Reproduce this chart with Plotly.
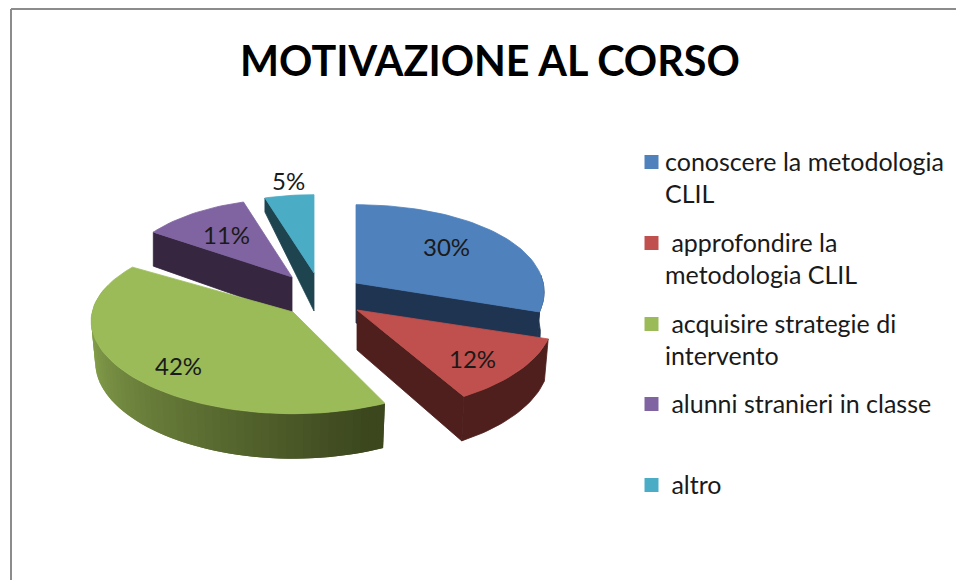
import math
import plotly.graph_objects as go

title = "MOTIVAZIONE AL CORSO"
categories = ["conoscere la metodologia<br>CLIL",
              "\u00a0approfondire la<br>metodologia CLIL",
              "\u00a0acquisire strategie di<br>intervento",
              "\u00a0alunni stranieri in classe",
              "\u00a0altro"]
values = [30, 12, 42, 11, 5]
percent_labels = ["30%", "12%", "42%", "11%", "5%"]
top_colors = ["#4F81BD", "#C0504D", "#9BBB59", "#8064A2", "#4BACC6"]
wall_colors = ["#1F3450", "#4E1F1D", None, "#36263F", "#1E4450"]

# layout of the exploded, tilted pie (pixel space)
apex_x = [356, 357, 293, 292, 314]
apex_y = [283, 310, 312, 277, 273]
scale_x = [0.96, 1.0, 1.03, 0.89, 0.9]
start_trim = [0, 0, 4, 0, 0]
end_trim = [0, 1.5, 0, 0, 0]
label_x = [446, 472, 178, 226, 288]
label_y = [246, 358, 365, 234, 180]
legend_y = [162, 243, 324, 404, 485]
A, B, KX, KY = 195, 90, 0.10, 0.13
FONT = "Lato, Carlito, Calibri, sans-serif"

fig = go.Figure()


def poly(xs, ys, color, lw=0.8):
    fig.add_trace(go.Scatter(x=xs, y=ys, mode="lines", fill="toself", fillcolor=color,
                             line=dict(color=color, width=lw), hoverinfo="skip", showlegend=False))


def pt(i, deg, depth=0.0):
    t = math.radians(deg)
    c, s = math.cos(t), math.sin(t)
    x = A * s * (1 - KX * c) * scale_x[i]
    y = -B * c * (1 - KY * c)
    if depth:
        x *= 0.98
    return apex_x[i] + x, apex_y[i] + y + depth


def depth_at(deg):
    return 41 - 4 * math.cos(math.radians(deg))


def mix(a, b, f):
    return "#%02x%02x%02x" % tuple(int(round(p + (q - p) * f)) for p, q in zip(a, b))


def draw_slice(i, t0, t1):
    t0 += start_trim[i]
    t1 -= end_trim[i]
    lo, hi = max(t0, 85), min(t1, 288)
    # radial faces that can be seen
    if i == 0 or i == 1:
        xa, ya = apex_x[i], apex_y[i]
        xe, ye = pt(i, t1)
        xb, yb = pt(i, t1, depth_at(t1))
        poly([xa, xe, xb, xa, xa], [ya, ye, yb, ya + 40, ya], wall_colors[i])
    if i == 3 or i == 4:
        xa, ya = apex_x[i], apex_y[i]
        xe, ye = pt(i, t0)
        rim = 34 if i == 3 else 14
        poly([xa, xe, xe, xa, xa], [ya, ye, ye + rim, ya + 38, ya], wall_colors[i])
    # outer wall
    if hi > lo:
        if i == 2:
            n = 60
            step = (hi - lo) / n
            # painted from the light end to the dark end, each strip overlapping the next
            for k in range(n):
                b = hi - step * k
                a = max(lo, b - 2 * step)
                f = max(0.0, min(1.0, (b - step - 160) / 110))
                col = mix((60, 71, 30), (140, 168, 80), f)
                m = 6
                upper = [pt(i, a + (b - a) * q / m) for q in range(m + 1)]
                lower = [pt(i, a + (b - a) * q / m, depth_at(a + (b - a) * q / m)) for q in range(m, -1, -1)]
                ring = upper + lower + upper[:1]
                poly([p[0] for p in ring], [p[1] for p in ring], col, lw=0)
        else:
            m = 24
            upper = [pt(i, lo + (hi - lo) * q / m) for q in range(m + 1)]
            lower = [pt(i, lo + (hi - lo) * q / m, depth_at(lo + (hi - lo) * q / m)) for q in range(m, -1, -1)]
            ring = upper + lower + upper[:1]
            poly([p[0] for p in ring], [p[1] for p in ring], wall_colors[i])
    # top face
    steps = max(8, int((t1 - t0) / 2))
    arc = [pt(i, t0 + (t1 - t0) * k / steps) for k in range(steps + 1)]
    poly([apex_x[i]] + [p[0] for p in arc] + [apex_x[i]],
         [apex_y[i]] + [p[1] for p in arc] + [apex_y[i]], top_colors[i])


total = sum(values)
angles = [0.0]
for v in values:
    angles.append(angles[-1] + 360.0 * v / total)

for i in [4, 3, 2, 0, 1]:
    draw_slice(i, angles[i], angles[i + 1])

# legend swatches
fig.add_trace(go.Scatter(x=[651.5] * len(values), y=legend_y, mode="markers",
                         marker=dict(symbol="square", size=14, color=top_colors),
                         hoverinfo="skip", showlegend=False))

annotations = [dict(x=490, y=60, text=title, showarrow=False, xanchor="center", yanchor="middle",
                    font=dict(family=FONT, size=41.3, color="#000000", weight="bold"))]
for i, txt in enumerate(percent_labels):
    annotations.append(dict(x=label_x[i], y=label_y[i], text=txt, showarrow=False,
                            xanchor="center", yanchor="middle",
                            font=dict(family=FONT, size=24, color="#1a1a1a")))
for i, cat in enumerate(categories):
    for j, line in enumerate(cat.split("<br>")):
        annotations.append(dict(x=663, y=legend_y[i] - 1 + 32 * j, text=line, showarrow=False,
                                xanchor="left", yanchor="middle",
                                font=dict(family=FONT, size=25, color="#1a1a1a")))

fig.update_layout(
    width=956, height=580, autosize=False,
    margin=dict(l=0, r=0, t=0, b=0),
    paper_bgcolor="white", plot_bgcolor="white",
    xaxis=dict(range=[0, 956], visible=False, fixedrange=True),
    yaxis=dict(range=[580, 0], visible=False, fixedrange=True),
    annotations=annotations,
    shapes=[dict(type="line", x0=11, y0=9, x1=956, y1=9, line=dict(color="#8c8c8c", width=2)),
            dict(type="line", x0=11, y0=9, x1=11, y1=580, line=dict(color="#8c8c8c", width=2))],
    showlegend=False,
)
fig.write_html("out.html", config={"displayModeBar": False},
               post_script="document.body.style.margin='0';document.body.style.overflow='hidden';")
